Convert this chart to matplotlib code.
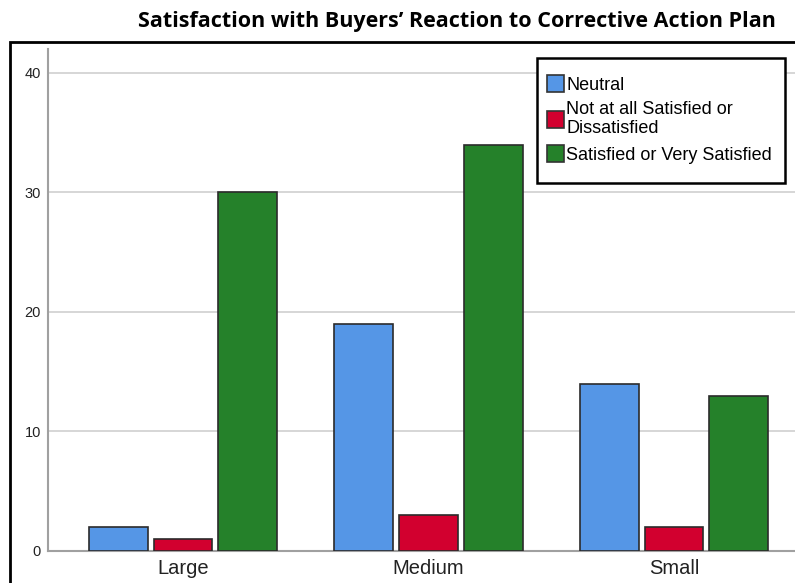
import matplotlib
matplotlib.use("Agg")
import matplotlib.pyplot as plt
from matplotlib.patches import Rectangle
import numpy as np

# data
sizes = ["Large", "Medium", "Small"]
series = ["Neutral", "Not at all Satisfied or\nDissatisfied", "Satisfied or Very Satisfied"]
neutral = [2, 19, 14]
not_satisfied = [1, 3, 2]
satisfied = [30, 34, 13]
colors = ["#5596E6", "#D2002F", "#25812A"]

fig = plt.figure(figsize=(7.95, 5.83), dpi=100)
ax = fig.add_axes([48 / 795, 1 - 551 / 583, 761 / 795, 502 / 583])

x = np.arange(len(sizes))
w = 0.24
offs = [-0.263, 0, 0.263]
for vals, off, c, lab in zip([neutral, not_satisfied, satisfied], offs, colors, series):
    ax.bar(x + off, vals, w, color=c, edgecolor="#2b2b2b", linewidth=1.2, label=lab, zorder=3)

ax.set_xlim(-0.55, 2.55)
ax.set_ylim(0, 42)
ax.set_yticks([0, 10, 20, 30, 40])
ax.set_xticks(x)
ax.set_xticklabels(sizes, fontsize=14.5, family="Liberation Sans", color="#222222")
for t in ax.get_yticklabels():
    t.set_fontsize(10.5)
    t.set_family("Liberation Sans")
    t.set_color("#222222")
ax.tick_params(axis="y", length=0, pad=5)
ax.tick_params(axis="x", length=0, pad=6)
ax.yaxis.grid(True, color="#cfcfcf", linewidth=1.2, zorder=0)
for s in ["top", "right"]:
    ax.spines[s].set_visible(False)
ax.spines["left"].set_color("#a0a0a0")
ax.spines["bottom"].set_color("#a0a0a0")
ax.spines["left"].set_linewidth(1.5)
ax.spines["bottom"].set_linewidth(1.5)

# legend box drawn by hand, entries placed inside it
box = Rectangle((537 / 795, 1 - 183 / 583), 248 / 795, 125 / 583, transform=fig.transFigure,
                facecolor="white", edgecolor="black", linewidth=1.8, zorder=4, clip_on=False)
ax.add_patch(box)
leg = ax.legend(loc="upper left", bbox_to_anchor=(547 / 795, 1 - 75 / 583),
                bbox_transform=fig.transFigure,
                prop={"family": "Liberation Sans", "size": 13}, frameon=False,
                handlelength=0.95, handleheight=1.1, handletextpad=0.12, labelspacing=0.42,
                borderpad=0, borderaxespad=0)
leg.set_zorder(5)
leg.get_texts()[1].set_linespacing(1.15)
for h in leg.legend_handles:
    h.set_edgecolor("#333333")

# outer frame around the chart (cropped on right and bottom)
fig.patches.append(Rectangle((10 / 795, -0.1), 1.2, 1 - 42 / 583 + 0.1, transform=fig.transFigure,
                             fill=False, edgecolor="black", linewidth=2))

fig.text(457 / 795, 1 - 21 / 583, "Satisfaction with Buyers\u2019 Reaction to Corrective Action Plan",
         ha="center", va="center", fontsize=15.5, fontweight="bold", family="Open Sans")

fig.savefig("out.png", dpi=100)
